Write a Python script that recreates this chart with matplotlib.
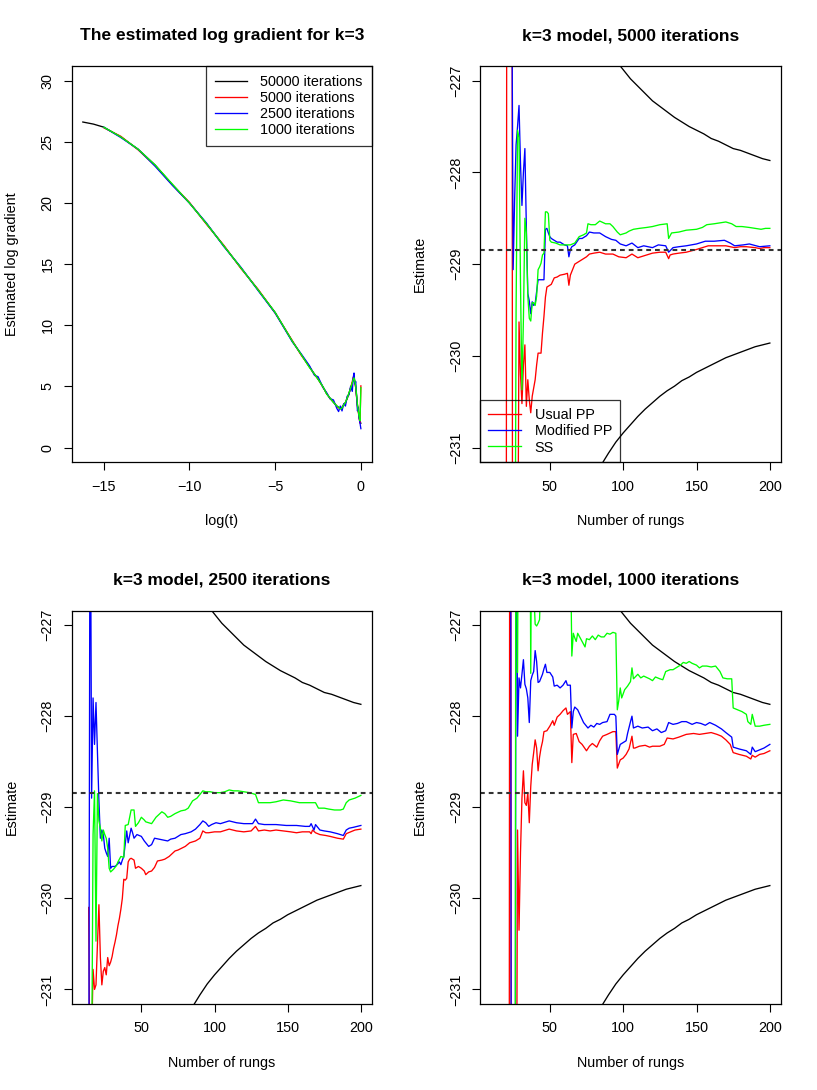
import matplotlib
matplotlib.use('Agg')
import matplotlib.pyplot as plt
from matplotlib.lines import Line2D

plt.rcParams['font.family'] = ['Liberation Sans', 'DejaVu Sans']

# ---------------- panel 1: estimated log gradient ----------------
logt = [-15.0, -14.0, -13.0, -12.0, -11.0, -10.0, -9.0, -8.0, -7.0, -6.0,
        -5.0, -4.0, -3.5, -3.0, -2.7, -2.5, -2.2, -2.0, -1.8, -1.6,
        -1.4, -1.3, -1.2, -1.1, -1.0, -0.9, -0.8, -0.7, -0.6, -0.5,
        -0.45, -0.4, -0.35, -0.3, -0.25, -0.2, -0.15, -0.1, -0.05, 0.0]
logt_50000 = [-16.22, -15.6] + logt

grad_50000 = [26.62, 26.45, 26.20, 25.40, 24.40, 23.10, 21.50, 20.00, 18.30, 16.50,
              14.70, 12.90, 11.05, 8.70, 7.65, 6.60, 6.00, 5.60, 4.95, 4.40,
              4.05, 3.70, 3.40, 3.30, 3.20, 3.30, 3.50, 3.70, 4.00, 4.40,
              4.85, 5.30, 5.50, 5.60, 5.40, 4.90, 4.20, 3.50, 3.00, 2.50,
              2.10, 2.00]
grad_5000 = [26.15, 25.45, 24.35, 23.05, 21.50, 20.05, 18.25, 16.55, 14.65, 12.95,
             11.00, 8.75, 7.60, 6.60, 5.95, 5.65, 4.90, 4.45, 4.00, 3.75,
             3.35, 3.25, 3.20, 3.20, 3.55, 3.65, 4.10, 4.40, 4.90, 5.40,
             5.75, 5.80, 5.30, 4.90, 4.10, 3.40, 2.90, 2.40, 2.00, 5.05]
grad_2500 = [26.20, 25.35, 24.40, 23.00, 21.45, 20.00, 18.35, 16.45, 14.75, 12.85,
             11.00, 8.65, 7.70, 6.70, 5.90, 5.80, 4.90, 4.50, 4.00, 3.90,
             3.20, 2.95, 3.40, 3.00, 3.60, 3.40, 4.20, 4.30, 5.00, 4.60,
             5.70, 6.10, 5.20, 5.40, 4.20, 3.00, 3.30, 2.40, 2.00, 1.55]
grad_1000 = [26.20, 25.40, 24.40, 23.10, 21.55, 20.00, 18.30, 16.50, 14.70, 12.90,
             11.05, 8.70, 7.65, 6.55, 6.00, 5.60, 4.95, 4.40, 4.05, 3.70,
             3.40, 3.30, 3.15, 3.25, 3.50, 3.70, 4.05, 4.45, 4.85, 5.30,
             5.55, 5.70, 5.45, 5.00, 4.30, 3.50, 3.00, 2.55, 2.20, 4.90]
iter_labels = ['50000 iterations', '5000 iterations', '2500 iterations', '1000 iterations']

# ---------------- rung panels ----------------
true_value = -228.845
bound_rungs = [85, 90, 95, 100, 105, 110, 115, 120, 125, 130, 135, 140,
               145, 150, 155, 160, 165, 170, 175, 180, 185, 190, 195, 200]
upper_bound = [-226.53, -226.66, -226.78, -226.88, -226.98, -227.06, -227.14, -227.22,
               -227.28, -227.34, -227.40, -227.45, -227.50, -227.54, -227.58, -227.63,
               -227.66, -227.70, -227.74, -227.76, -227.79, -227.82, -227.85, -227.87]
lower_bound = [-231.19, -231.06, -230.94, -230.84, -230.75, -230.66, -230.58, -230.51,
               -230.44, -230.38, -230.33, -230.27, -230.23, -230.18, -230.14, -230.10,
               -230.06, -230.02, -229.99, -229.96, -229.93, -229.90, -229.88, -229.86]
method_labels = ['Usual PP', 'Modified PP', 'SS']

# 5000 iterations
usual_5000_x = [18, 20, 21, 24, 25, 27, 28, 29, 30, 31, 32, 33, 34, 35, 36, 37, 38, 39, 40, 41,
                42, 44, 45, 46, 47, 48, 49, 51, 53, 55, 57, 60, 62, 63, 64, 65, 67, 70, 72, 75,
                77, 80, 84, 88, 93, 97, 102, 106, 110, 116, 120, 125, 129, 131, 132, 134, 138,
                143, 150, 158, 166, 170, 176, 180, 184, 190, 193, 196, 200]
usual_5000_y = [-240.0, -240.0, -217.0, -217.0, -245.0, -245.0, -233.0, -229.63, -230.20, -230.52,
                -230.10, -229.88, -230.55, -230.26, -230.48, -230.62, -230.44, -230.35, -230.26, -230.10,
                -229.97, -229.97, -229.75, -229.57, -229.36, -229.25, -229.24, -229.22, -229.15, -229.14,
                -229.12, -229.11, -229.10, -229.23, -229.12, -229.08, -229.00, -228.97, -228.95, -228.92,
                -228.89, -228.88, -228.87, -228.89, -228.89, -228.92, -228.93, -228.89, -228.93, -228.90,
                -228.88, -228.87, -228.87, -228.94, -228.90, -228.89, -228.88, -228.87, -228.84, -228.80,
                -228.80, -228.80, -228.82, -228.81, -228.81, -228.82, -228.83, -228.82, -228.82]
mod_5000_x = [23, 24, 25, 26, 27, 28, 29, 30, 31, 32, 33, 34, 35, 36, 37, 38, 39, 40, 41, 42,
              44, 46, 47, 48, 49, 50, 51, 53, 55, 57, 60, 62, 63, 64, 65, 67, 70, 72, 75, 77,
              80, 84, 88, 92, 95, 98, 102, 106, 110, 114, 120, 124, 129, 131, 134, 138, 143, 150,
              156, 162, 169, 173, 176, 182, 186, 193, 200]
mod_5000_y = [-222.0, -225.5, -229.06, -228.30, -227.70, -227.50, -227.27, -227.90, -228.36, -228.00,
              -227.74, -228.60, -229.32, -229.40, -229.54, -229.41, -229.45, -229.43, -229.30, -229.17,
              -229.17, -229.17, -228.62, -228.61, -228.66, -228.70, -228.72, -228.74, -228.76, -228.76,
              -228.79, -228.80, -228.92, -228.84, -228.81, -228.79, -228.72, -228.72, -228.69, -228.65,
              -228.66, -228.66, -228.70, -228.73, -228.74, -228.78, -228.80, -228.77, -228.82, -228.80,
              -228.82, -228.79, -228.80, -228.87, -228.82, -228.81, -228.80, -228.78, -228.75, -228.75,
              -228.74, -228.77, -228.80, -228.79, -228.78, -228.81, -228.80]
ss_5000_x = [23, 25, 26, 27, 28, 29, 30, 31, 32, 33, 34, 35, 36, 37, 38, 39, 40, 41, 42, 43,
             44, 45, 46, 47, 48, 49, 50, 51, 54, 57, 61, 64, 67, 70, 73, 75, 76, 78, 81, 84,
             88, 91, 93, 96, 98, 102, 104, 107, 111, 116, 120, 125, 130, 131, 133, 138, 143, 150,
             154, 157, 162, 166, 170, 174, 177, 181, 186, 190, 194, 197, 200]
ss_5000_y = [-240.0, -240.0, -234.0, -229.50, -227.54, -227.62, -229.20, -230.37, -229.60, -228.50,
             -228.66, -229.35, -229.59, -229.62, -229.42, -229.42, -229.45, -229.35, -229.06, -229.03,
             -228.99, -228.90, -228.88, -228.43, -228.43, -228.45, -228.74, -228.76, -228.77, -228.79,
             -228.79, -228.79, -228.77, -228.70, -228.68, -228.66, -228.56, -228.57, -228.57, -228.53,
             -228.56, -228.56, -228.59, -228.65, -228.68, -228.66, -228.64, -228.62, -228.61, -228.60,
             -228.59, -228.57, -228.56, -228.72, -228.66, -228.65, -228.63, -228.62, -228.60, -228.57,
             -228.56, -228.55, -228.54, -228.56, -228.59, -228.59, -228.60, -228.61, -228.62, -228.61,
             -228.61]

# 2500 iterations
usual_2500_x = [14, 15, 16, 17, 18, 19, 20, 21, 22, 23, 24, 25, 26, 27, 28, 29, 30, 31, 32, 33,
                34, 35, 36, 37, 38, 39, 40, 41, 42, 43, 45, 46, 48, 50, 52, 53, 55, 57, 59, 61,
                64, 66, 69, 73, 75, 80, 83, 87, 90, 92, 94, 96, 100, 104, 110, 115, 120, 125, 128,
                130, 134, 138, 142, 147, 152, 156, 160, 165, 166, 167, 169, 172, 176, 179, 184,
                188, 190, 193, 196, 200]
usual_2500_y = [-230.10, -232.50, -231.60, -230.78, -231.00, -230.95, -230.50, -230.07, -230.65, -230.95,
                -230.80, -230.76, -230.84, -230.65, -230.74, -230.70, -230.64, -230.55, -230.48, -230.40,
                -230.30, -230.22, -230.12, -230.00, -229.79, -229.80, -229.78, -229.60, -229.57, -229.56,
                -229.58, -229.67, -229.65, -229.67, -229.70, -229.74, -229.71, -229.70, -229.66, -229.59,
                -229.58, -229.57, -229.54, -229.48, -229.47, -229.43, -229.39, -229.37, -229.34, -229.26,
                -229.28, -229.28, -229.27, -229.27, -229.24, -229.26, -229.27, -229.26, -229.21, -229.26,
                -229.25, -229.26, -229.25, -229.26, -229.27, -229.28, -229.27, -229.27, -229.29, -229.25,
                -229.28, -229.30, -229.31, -229.32, -229.34, -229.35, -229.29, -229.27, -229.25, -229.24]
mod_2500_x = [14, 15, 16, 17, 18, 19, 20, 21, 22, 23, 24, 25, 26, 27, 28, 29, 30, 32, 34, 35,
              36, 37, 38, 39, 40, 41, 43, 44, 45, 47, 50, 52, 55, 57, 59, 62, 65, 68, 70, 73,
              77, 80, 84, 87, 90, 92, 94, 96, 98, 101, 104, 110, 115, 120, 126, 128, 130, 134,
              138, 142, 149, 156, 162, 165, 166, 168, 169, 172, 175, 179, 184, 188, 190, 192,
              195, 200]
mod_2500_y = [-233.00, -224.50, -228.90, -227.80, -228.31, -227.85, -228.40, -228.93, -229.34, -229.25,
              -229.30, -229.45, -229.50, -229.54, -229.34, -229.67, -229.65, -229.65, -229.62, -229.60,
              -229.63, -229.58, -229.54, -229.40, -229.26, -229.39, -229.23, -229.28, -229.34, -229.30,
              -229.32, -229.37, -229.43, -229.41, -229.34, -229.35, -229.36, -229.37, -229.35, -229.34,
              -229.30, -229.29, -229.27, -229.24, -229.19, -229.15, -229.17, -229.21, -229.19, -229.17,
              -229.18, -229.15, -229.17, -229.18, -229.18, -229.13, -229.18, -229.19, -229.19, -229.19,
              -229.20, -229.20, -229.21, -229.21, -229.18, -229.25, -229.19, -229.25, -229.26, -229.27,
              -229.29, -229.31, -229.25, -229.23, -229.22, -229.20]
ss_2500_x = [15, 16, 17, 18, 19, 20, 21, 22, 23, 24, 25, 26, 27, 28, 29, 31, 33, 34, 36, 38,
             39, 41, 43, 45, 46, 48, 50, 52, 53, 55, 57, 60, 62, 64, 66, 68, 70, 73, 77, 80,
             82, 85, 88, 90, 92, 94, 97, 100, 104, 107, 110, 113, 116, 120, 124, 128, 130, 134,
             138, 142, 147, 152, 158, 164, 169, 171, 175, 178, 182, 186, 188, 190, 192, 196, 200]
ss_2500_y = [-234.00, -232.00, -229.30, -228.82, -230.47, -228.85, -229.15, -229.23, -229.37, -229.25,
             -229.30, -229.34, -229.45, -229.67, -229.71, -229.68, -229.64, -229.60, -229.54, -229.55,
             -229.20, -229.19, -229.03, -229.03, -229.21, -229.17, -229.11, -229.14, -229.16, -229.17,
             -229.18, -229.11, -229.08, -229.05, -229.07, -229.11, -229.10, -229.07, -229.04, -229.03,
             -229.01, -228.93, -228.90, -228.86, -228.82, -228.83, -228.83, -228.84, -228.84, -228.83,
             -228.81, -228.82, -228.82, -228.83, -228.84, -228.86, -228.95, -228.95, -228.95, -228.94,
             -228.92, -228.93, -228.95, -228.95, -228.95, -229.01, -229.01, -229.02, -229.03, -229.03,
             -229.02, -228.95, -228.92, -228.90, -228.87]

# 1000 iterations
usual_1000_x = [21, 22, 23, 24, 27, 28, 29, 30, 31, 32, 33, 34, 35, 36, 37, 38, 39, 40, 41, 42,
                43, 44, 45, 46, 48, 50, 52, 53, 55, 57, 59, 61, 62, 64, 65, 66, 68, 70, 72, 75,
                77, 79, 82, 84, 86, 89, 93, 95, 96, 98, 100, 102, 104, 106, 107, 108, 111, 115,
                118, 120, 125, 128, 130, 134, 138, 143, 148, 152, 156, 160, 164, 167, 170, 173,
                175, 179, 184, 187, 188, 190, 193, 196, 200]
usual_1000_y = [-240.0, -240.0, -217.0, -240.0, -234.0, -229.25, -230.35, -229.50, -228.90, -228.60,
                -228.95, -228.98, -228.84, -229.17, -228.77, -228.53, -228.40, -228.26, -228.35, -228.60,
                -228.45, -228.35, -228.28, -228.17, -228.16, -228.11, -228.05, -228.10, -228.01, -227.98,
                -227.94, -227.91, -227.98, -227.95, -228.51, -228.20, -228.19, -228.28, -228.31, -228.38,
                -228.33, -228.30, -228.34, -228.27, -228.22, -228.20, -228.17, -228.17, -228.57, -228.48,
                -228.46, -228.42, -228.36, -228.22, -228.35, -228.35, -228.33, -228.32, -228.34, -228.33,
                -228.33, -228.31, -228.24, -228.25, -228.23, -228.20, -228.19, -228.20, -228.19, -228.18,
                -228.20, -228.22, -228.26, -228.31, -228.40, -228.42, -228.44, -228.47, -228.43, -228.45,
                -228.42, -228.41, -228.38]
mod_1000_x = [22, 23, 24, 26, 27, 28, 29, 30, 31, 32, 33, 34, 35, 36, 37, 38, 39, 40, 41, 42,
              43, 44, 45, 46, 47, 48, 50, 52, 53, 55, 57, 59, 61, 62, 64, 65, 66, 67, 69, 71,
              73, 76, 78, 80, 82, 84, 86, 89, 91, 94, 95, 96, 98, 100, 102, 103, 105, 106, 107,
              110, 113, 117, 120, 123, 126, 129, 131, 134, 137, 140, 143, 147, 150, 153, 156,
              159, 163, 167, 170, 174, 175, 179, 184, 187, 188, 190, 193, 196, 200]
mod_1000_y = [-218.0, -218.0, -240.0, -240.0, -224.0, -228.22, -227.58, -227.69, -227.54, -227.38,
              -227.65, -227.70, -227.80, -228.07, -227.61, -227.55, -227.51, -227.28, -227.40, -227.63,
              -227.62, -227.58, -227.54, -227.48, -227.43, -227.52, -227.52, -227.57, -227.67, -227.66,
              -227.69, -227.66, -227.61, -227.66, -227.66, -228.13, -227.95, -227.90, -227.93, -228.00,
              -228.07, -228.13, -228.10, -228.12, -228.08, -228.09, -228.07, -228.06, -227.98, -227.98,
              -228.00, -228.42, -228.31, -228.29, -228.27, -228.19, -228.06, -228.00, -228.13, -228.11,
              -228.13, -228.12, -228.16, -228.14, -228.18, -228.16, -228.07, -228.09, -228.08, -228.06,
              -228.06, -228.09, -228.07, -228.08, -228.10, -228.07, -228.10, -228.14, -228.18, -228.23,
              -228.34, -228.36, -228.38, -228.42, -228.34, -228.39, -228.37, -228.35, -228.31]
ss_1000_x = [25, 26, 27, 28, 29, 36, 37, 38, 39, 40, 41, 42, 43, 44, 63, 64, 65, 66, 67, 68,
             69, 70, 72, 74, 75, 77, 79, 81, 83, 85, 87, 89, 91, 93, 95, 96, 97, 98, 99, 101,
             103, 105, 106, 107, 110, 112, 114, 118, 120, 122, 125, 127, 129, 132, 134, 136, 139,
             141, 143, 145, 147, 150, 152, 154, 157, 160, 163, 166, 168, 171, 174, 175, 178, 181,
             184, 185, 187, 188, 190, 193, 196, 200]
ss_1000_y = [-240.0, -240.0, -222.0, -227.52, -224.0, -224.0, -227.53, -224.5, -226.60, -226.99,
             -227.01, -226.98, -226.94, -226.40, -226.0, -226.0, -227.34, -227.09, -227.14, -227.18,
             -227.09, -227.12, -227.18, -227.24, -227.15, -227.16, -227.12, -227.16, -227.11, -227.13,
             -227.13, -227.09, -227.10, -227.08, -227.09, -227.93, -227.83, -227.69, -227.80, -227.71,
             -227.67, -227.62, -227.47, -227.59, -227.54, -227.58, -227.56, -227.59, -227.61, -227.57,
             -227.59, -227.60, -227.51, -227.49, -227.49, -227.47, -227.44, -227.41, -227.42, -227.40,
             -227.42, -227.44, -227.47, -227.45, -227.45, -227.46, -227.45, -227.51, -227.58, -227.59,
             -227.59, -227.91, -227.93, -227.95, -227.98, -228.06, -228.09, -227.98, -228.11, -228.11,
             -228.10, -228.09]

# ---------------- layout ----------------
W, H = 817, 1090
FS = 10.4
LW = 0.95
R_COLS = ['black', '#ff0000', '#0000ff', '#00ff00']


def r_limits(lo, hi):
    pad = 0.04 * (hi - lo)
    return lo - pad, hi + pad


def tick_text(v):
    return f'{v:g}'.replace('-', '\u2212')


def style_axes(ax, title, xlabel, ylabel, xticks, yticks):
    ax.set_xticks(xticks, labels=[tick_text(v) for v in xticks])
    ax.set_yticks(yticks, labels=[tick_text(v) for v in yticks], rotation=90, va='center')
    ax.tick_params(direction='out', length=6.1, width=0.8, labelsize=FS, pad=6.3)
    for sp in ax.spines.values():
        sp.set_linewidth(0.9)
    ax.set_title(title, fontsize=12.5, fontweight='bold', pad=18.5)
    ax.set_xlabel(xlabel, fontsize=FS)
    ax.set_ylabel(ylabel, fontsize=FS)
    pos = ax.get_position()
    ax.xaxis.set_label_coords(0.5, -59 / (pos.height * H))
    ax.yaxis.set_label_coords(-60 / (pos.width * W), 0.5)
    ax.xaxis.label.set_va('center')
    ax.yaxis.label.set_va('center')


def add_axes(x0, y0, x1, y1):
    return fig.add_axes([x0 / W, 1 - y1 / H, (x1 - x0) / W, (y1 - y0) / H])


fig = plt.figure(figsize=(W / 100, H / 100), dpi=100)
fig.patch.set_facecolor('white')

# panel 1
ax1 = add_axes(71.7, 66, 372, 462.3)
ax1.plot(logt_50000, grad_50000, color=R_COLS[0], lw=LW)
ax1.plot(logt, grad_5000, color=R_COLS[1], lw=LW)
ax1.plot(logt, grad_2500, color=R_COLS[2], lw=LW)
ax1.plot(logt, grad_1000, color=R_COLS[3], lw=LW)
ax1.set_xlim(r_limits(logt_50000[0], logt_50000[-1]))
ax1.set_ylim(r_limits(0, 30))
style_axes(ax1, 'The estimated log gradient for k=3', 'log(t)', 'Estimated log gradient',
           [-15, -10, -5, 0], [0, 5, 10, 15, 20, 25, 30])
handles = [Line2D([], [], color=c, lw=LW) for c in R_COLS]
leg = ax1.legend(handles, iter_labels, loc='upper right', borderaxespad=0, fontsize=FS,
                 fancybox=False, edgecolor='black', facecolor='none',
                 handlelength=2.2, handletextpad=0.9, borderpad=0.65, labelspacing=0.12)
leg.get_frame().set_linewidth(0.9)

# rung panels
rung_panels = [
    ((480, 66, 781, 462.3), 'k=3 model, 5000 iterations',
     (usual_5000_x, usual_5000_y), (mod_5000_x, mod_5000_y), (ss_5000_x, ss_5000_y), True),
    ((71.7, 610.5, 372, 1004), 'k=3 model, 2500 iterations',
     (usual_2500_x, usual_2500_y), (mod_2500_x, mod_2500_y), (ss_2500_x, ss_2500_y), False),
    ((480, 610.5, 781, 1004), 'k=3 model, 1000 iterations',
     (usual_1000_x, usual_1000_y), (mod_1000_x, mod_1000_y), (ss_1000_x, ss_1000_y), False),
]

for box, title, usual, modified, ss, with_legend in rung_panels:
    ax = add_axes(*box)
    ax.plot(bound_rungs, upper_bound, color='black', lw=LW)
    ax.plot(bound_rungs, lower_bound, color='black', lw=LW)
    ax.plot(usual[0], usual[1], color=R_COLS[1], lw=LW)
    ax.plot(modified[0], modified[1], color=R_COLS[2], lw=LW)
    ax.plot(ss[0], ss[1], color=R_COLS[3], lw=LW)
    ax.axhline(true_value, color='#333333', lw=1.5, ls=(0, (2.3, 1.9)))
    ax.set_xlim(r_limits(10, 200))
    ax.set_ylim(r_limits(-231, -227))
    style_axes(ax, title, 'Number of rungs', 'Estimate',
               [50, 100, 150, 200], [-231, -230, -229, -228, -227])
    if with_legend:
        h = [Line2D([], [], color=c, lw=LW) for c in R_COLS[1:]]
        leg = ax.legend(h, method_labels, loc='lower left', borderaxespad=0, fontsize=FS,
                        fancybox=False, edgecolor='black', facecolor='none',
                        handlelength=2.3, handletextpad=0.95, borderpad=0.54, labelspacing=0.15)
        leg.get_frame().set_linewidth(0.9)

fig.savefig('out.png', dpi=100, facecolor='white')
